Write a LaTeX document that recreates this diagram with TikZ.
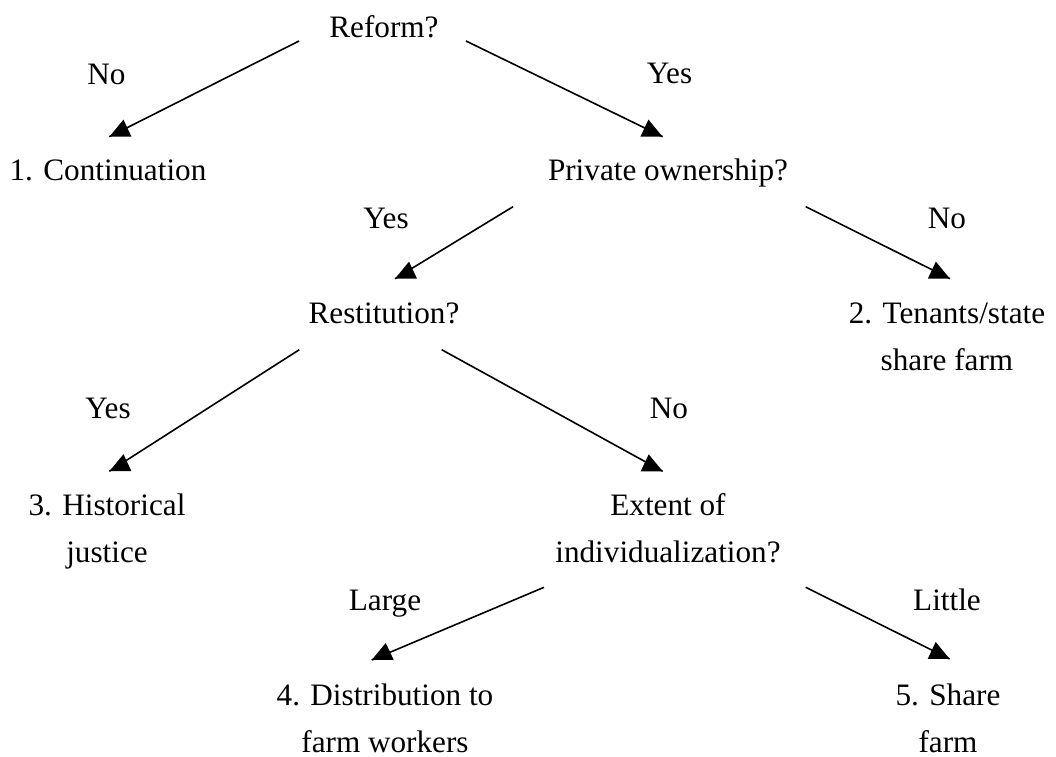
\documentclass[tikz,border=0pt]{standalone}
\usepackage{fontspec}
\setmainfont{Liberation Serif}
\usetikzlibrary{calc,decorations.markings}
\tikzstyle{choice} = [anchor=base, inner sep=0pt, align=center]
\tikzstyle{answer} = [anchor=base, inner sep=0pt]
\tikzstyle{lineL} = [draw, line width=0.8pt, postaction={decorate}, %
   decoration={markings, mark=at position 1 with {%
   \pgftransformresetnontranslations \fill (0,0) -- (22,0) -- (14,-17) -- cycle;}}]
\tikzstyle{lineR} = [draw, line width=0.8pt, postaction={decorate}, %
   decoration={markings, mark=at position 1 with {%
   \pgftransformresetnontranslations \fill (0,0) -- (-22,0) -- (-14,-17) -- cycle;}}]

\begin{document}
\begin{tikzpicture}[x=0.5pt, y=-0.5pt, font=\fontsize{15.6}{23.35}\selectfont]
   \useasboundingbox (0,0) rectangle (1056,756);

   % Place nodes (two-line nodes sit on their last line)
   \node[choice] (reform) at (384,37.7) {Reform?};
   \node[choice] (cont) at (108,180) {1. Continuation};
   \node[choice] (priv) at (668,180) {Private ownership?};
   \node[choice] (restit) at (384,323.7) {Restitution?};
   \node[choice] (tenants) at (947,370.3) {2. Tenants/state\\share farm};
   \node[choice] (hist) at (107,562.3) {3. Historical\\justice};
   \node[choice] (extent) at (668,562.3) {Extent of\\individualization?};
   \node[choice, text depth=0pt] (distrib) at (385,752) {4. Distribution to\\farm workers};
   \node[choice, text depth=0pt] (share) at (948,752) {5. Share\\farm};

   % Answers
   \node[answer] (noA) at (106.5,84) {No};
   \node[answer] (yesA) at (669.5,83.3) {Yes};
   \node[answer] (yesB) at (386,228) {Yes};
   \node[answer] (noB) at (947,228) {No};
   \node[answer] (yesC) at (108,418.7) {Yes};
   \node[answer] (noC) at (669,418.7) {No};
   \node[answer] (large) at (385,610.7) {Large};
   \node[answer] (little) at (947,610.7) {Little};

   % Draw edges
   \path [lineL] ($(reform.base)+(-85,3.3)$) -- ($(cont.base)+(1.3,-43.3)$);
   \path [lineR] ($(reform.base)+(82,3.3)$) -- ($(priv.base)+(-5.3,-43.3)$);
   \path [lineL] ($(priv.base)+(-155,26.7)$) -- ($(restit.base)+(11,-45)$);
   \path [lineR] ($(priv.base)+(137.7,26.7)$) -- ($(tenants.base)+(3,-91.6)$);
   \path [lineL] ($(restit.base)+(-84.7,26)$) -- ($(hist.base)+(2.3,-91)$);
   \path [lineR] ($(restit.base)+(57.7,26)$) -- ($(extent.base)+(-5.3,-91)$);
   \path [lineL] ($(extent.base)+(-124,25)$) -- ($(distrib.base)+(-13.3,-92)$);
   \path [lineR] ($(extent.base)+(137.7,25)$) -- ($(share.base)+(1.7,-93)$);
\end{tikzpicture}
\end{document}
